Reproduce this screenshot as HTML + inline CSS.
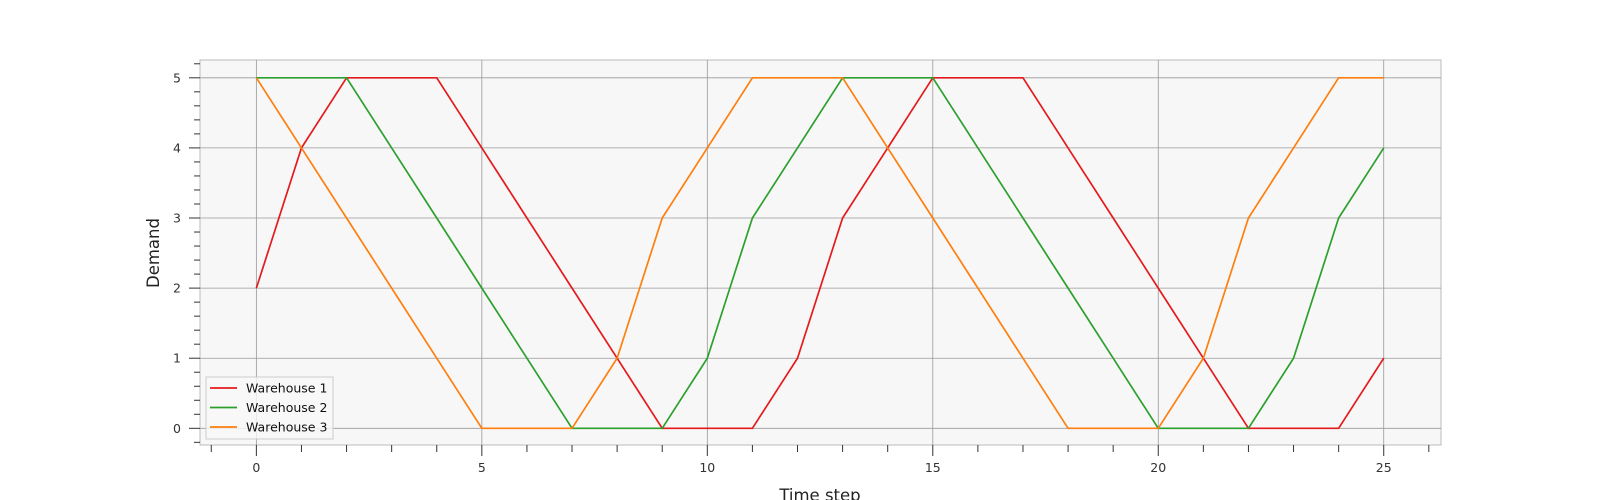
<!DOCTYPE html>
<html><head><meta charset="utf-8"><style>
html,body{margin:0;padding:0;background:#fff;overflow:hidden;width:1600px;height:500px;}
svg{display:block;font-family:"DejaVu Sans","Liberation Sans",sans-serif;}
</style></head><body>
<svg id="chart" width="1600" height="500" viewBox="0 0 1600 500"></svg>
<script>
const steps=[0,1,2,3,4,5,6,7,8,9,10,11,12,13,14,15,16,17,18,19,20,21,22,23,24,25];
const warehouse1=[2,4,5,5,5,4,3,2,1,0,0,0,1,3,4,5,5,5,4,3,2,1,0,0,0,1];
const warehouse2=[5,5,5,4,3,2,1,0,0,0,1,3,4,5,5,5,4,3,2,1,0,0,0,1,3,4];
const warehouse3=[5,4,3,2,1,0,0,0,1,3,4,5,5,5,4,3,2,1,0,0,0,1,3,4,5,5];
const seriesNames=["Warehouse 1","Warehouse 2","Warehouse 3"];
const xTicks=[0,5,10,15,20,25];
const yTicks=[0,1,2,3,4,5];
const colors=["#e41a1c","#2ca02c","#ff7f0e"];
const svg=document.getElementById('chart');
const NS='http://www.w3.org/2000/svg';
const L=200,R=1441,T=60,B=445;
const xMin=-1.25,xMax=26.27,yMin=-0.238,yMax=5.254;
const X=v=>L+(v-xMin)/(xMax-xMin)*(R-L);
const Y=v=>B-(v-yMin)/(yMax-yMin)*(B-T);
function mk(tag,attrs,parent){const e=document.createElementNS(NS,tag);for(const k in attrs)e.setAttribute(k,attrs[k]);(parent||svg).appendChild(e);return e;}
const bg=mk('rect',{x:L,y:T,width:R-L,height:B-T,fill:'#f7f7f7',stroke:'#bbb','stroke-width':1});


xTicks.forEach(t=>{
  const g=mk('line',{x1:X(t),x2:X(t),y1:T,y2:B,stroke:'#999','stroke-width':0.8});
  
  
  const tx=mk('text',{x:X(t),y:472,'font-size':12.5,'text-anchor':'middle',fill:'#333'});
  tx.textContent=t;
  
  
});
for(let i=-1;i<=26;i++){
  const major=i%5===0;
  const tk=mk('line',{x1:X(i),x2:X(i),y1:B,y2:B+(major?11:7),stroke:'#333','stroke-width':1});
  
  
}
yTicks.forEach(t=>{
  const g=mk('line',{x1:L,x2:R,y1:Y(t),y2:Y(t),stroke:'#999','stroke-width':0.8});
  
  
  const tx=mk('text',{x:181,y:Y(t)+4.5,'font-size':12.5,'text-anchor':'end',fill:'#333'});
  tx.textContent=t;
  
  
});
for(let i=-1;i<=26;i++){
  const v=i*0.2;
  const major=i%5===0;
  const tk=mk('line',{x1:L-(major?11:6),x2:L,y1:Y(v),y2:Y(v),stroke:'#333','stroke-width':1});
  
  
}
[warehouse1,warehouse2,warehouse3].forEach((s,si)=>{
  const pts=steps.map((x,i)=>X(x)+','+Y(s[i])).join(' ');
  const pl=mk('polyline',{points:pts,fill:'none',stroke:colors[si],'stroke-width':1.7});
  
  
});
const lg=mk('g',{});


mk('rect',{x:206,y:377,width:127,height:62,fill:'#f7f7f7','fill-opacity':0.8,stroke:'#ccc','stroke-width':1},lg);
seriesNames.forEach((n,i)=>{
  const y=388+i*19.5;
  const ln=mk('line',{x1:210,x2:237,y1:y,y2:y,stroke:colors[i],'stroke-width':1.7},lg);
  
  
  const tx=mk('text',{x:246,y:y+4.5,'font-size':12.5,fill:'#111'},lg);
  tx.textContent=n;
  
  
});
const xt=mk('text',{x:820,y:501,'font-size':16.5,'text-anchor':'middle',fill:'#222'});
xt.textContent='Time step';


const yt=mk('text',{x:159,y:253,'font-size':16.5,'text-anchor':'middle',fill:'#222',transform:'rotate(-90 159 253)'});
yt.textContent='Demand';


</script>
</body></html>
